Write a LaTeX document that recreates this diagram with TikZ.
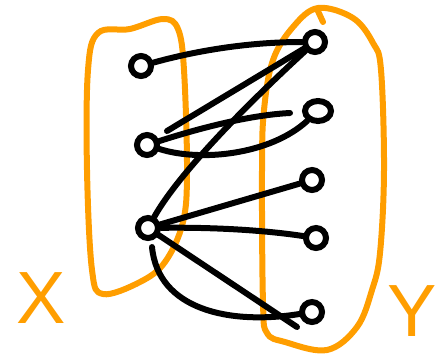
\documentclass[tikz,border=0pt]{standalone}
\usepackage{fontspec}
\setmainfont{Liberation Sans}
\usetikzlibrary{shapes.geometric}
\definecolor{hand}{RGB}{255,158,0}
\begin{document}
\begin{tikzpicture}[x=1pt,y=-1pt,
  vtx/.style={circle,draw=black,line width=6pt,minimum size=20pt,inner sep=0pt},
  edge/.style={draw=black,line width=6pt,line cap=round},
  set/.style={draw=hand,line width=6pt,line cap=round,line join=round},
  lbl/.style={text=hand,font=\fontsize{74}{74}\selectfont,inner sep=0pt}]
\useasboundingbox (0,0) rectangle (446,354);
% sets
\draw[set] plot[smooth cycle,tension=0.6] coordinates {(98,33) (130,29) (163,19) (178,29) (184,70) (187,170) (183,222) (165,262) (140,282) (103,294) (92,270) (87,170) (88,70)};
\draw[set] plot[smooth cycle,tension=0.6] coordinates {(318,8) (353,18) (373,43) (381,70) (384,170) (380,253) (372,290) (357,327) (327,350) (285,342) (267,333) (263,303) (262,170) (264,110) (273,60) (293,27)};
\draw[set] (317,9) -- (323,22);
% vertices
\node[vtx] (l1) at (141,66) {};
\node[vtx] (l2) at (147,145) {};
\node[vtx] (l3) at (148,228) {};
\node[vtx] (r1) at (315,42) {};
\node[vtx,ellipse,minimum width=26pt,minimum height=20pt] (r2) at (318,111) {};
\node[vtx] (r3) at (312,180) {};
\node[vtx] (r4) at (316,238) {};
\node[vtx] (r5) at (312,312) {};
\coordinate (c2) at (167,131);
\coordinate (c4) at (290,113);
\coordinate (c8) at (297,327);
\coordinate (c9) at (152,247);
% edges
\draw[edge] (l1) .. controls (210,47) and (262,42) .. (r1);
\draw[edge] (r1) -- (c2);
\draw[edge] (r1) .. controls (230,120) and (175,180) .. (l3);
\draw[edge] (l2) .. controls (200,128) and (250,115) .. (c4);
\draw[edge] (l2) .. controls (200,162) and (270,155) .. (r2);
\draw[edge] (l3) -- (r3);
\draw[edge] (l3) .. controls (220,227) and (270,231) .. (r4);
\draw[edge] (l3) -- (c8);
\draw[edge] (c9) .. controls (158,310) and (230,325) .. (r5);
% labels
\node[lbl] (X) at (41,298) {X};
\node[lbl] (Y) at (412,311) {Y};
\end{tikzpicture}
\end{document}
